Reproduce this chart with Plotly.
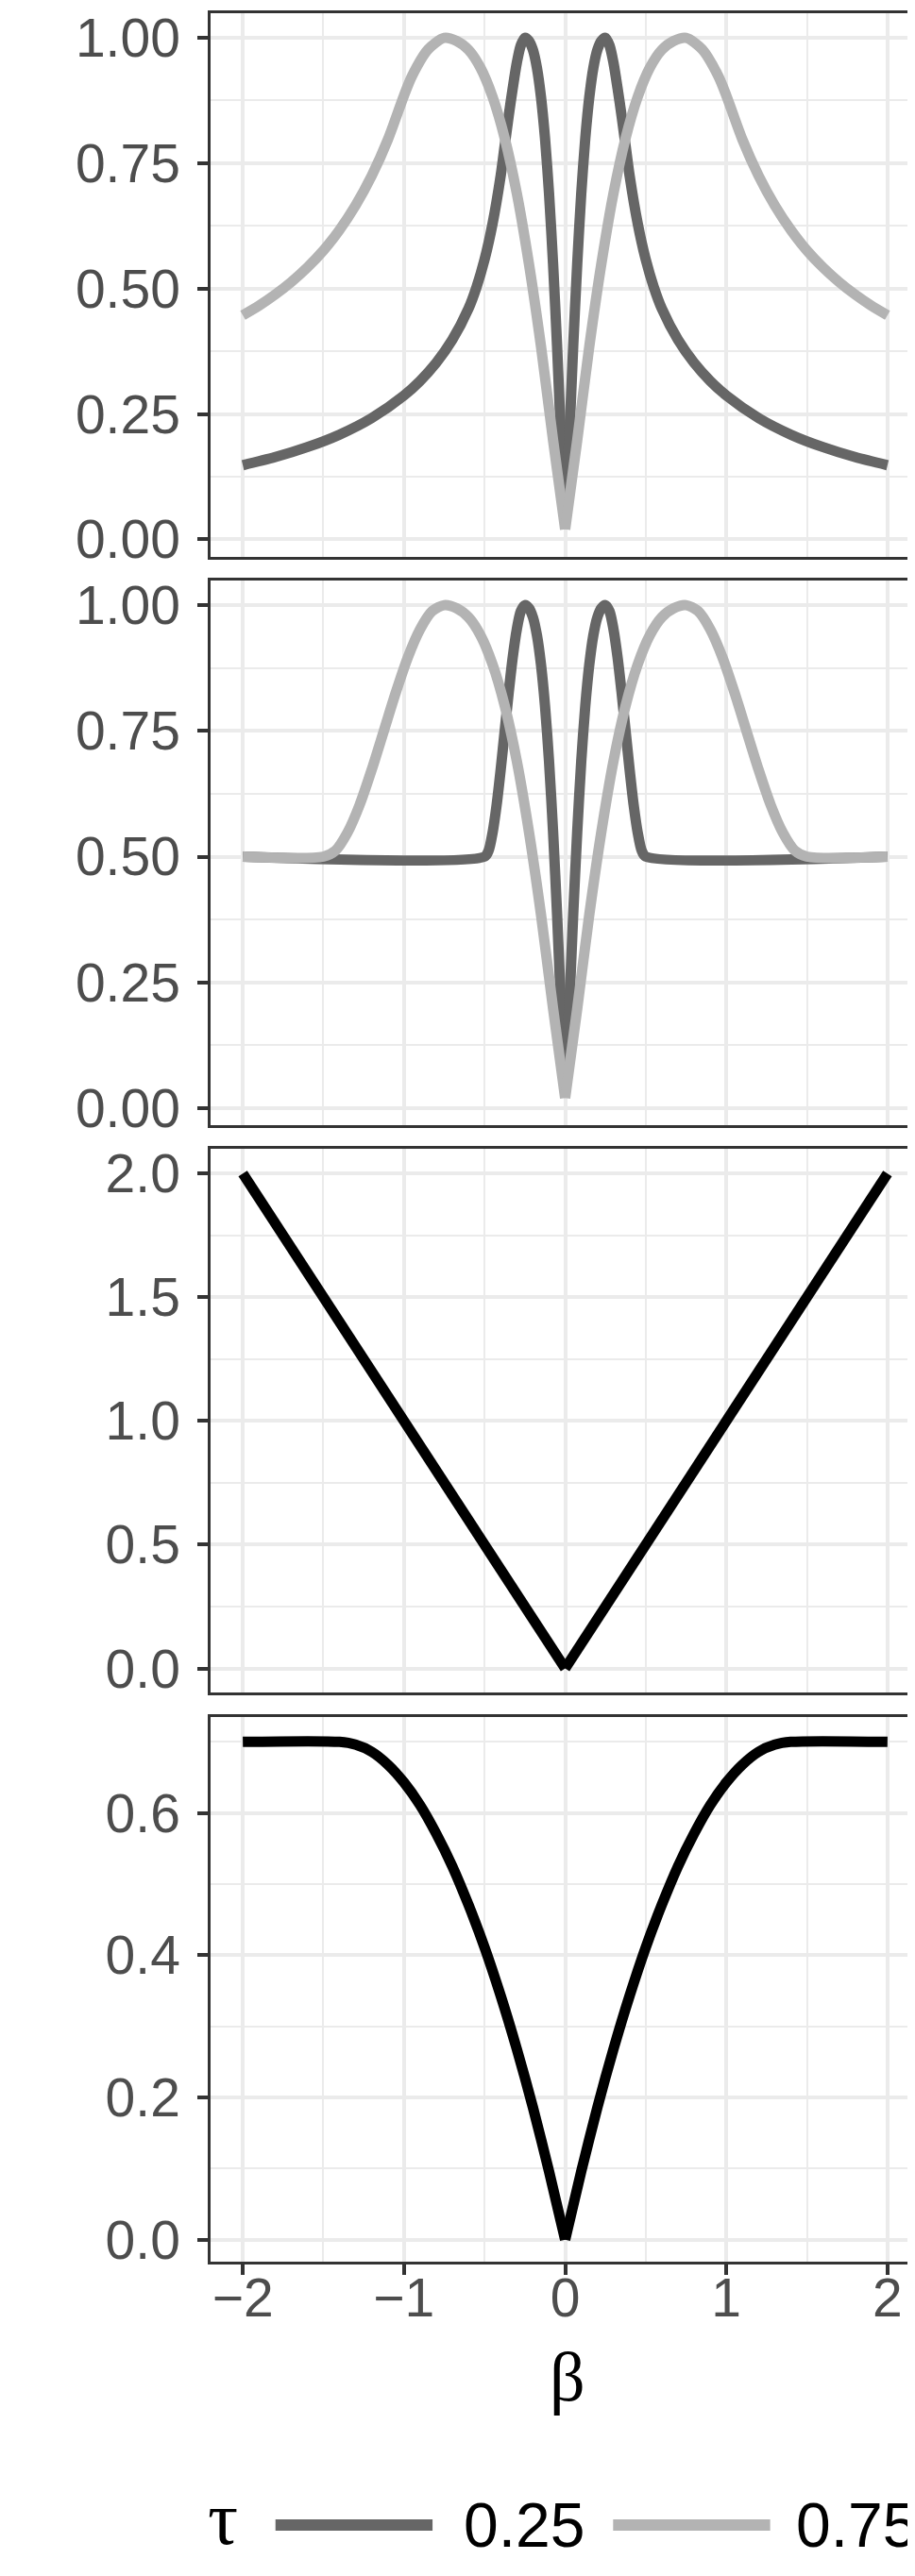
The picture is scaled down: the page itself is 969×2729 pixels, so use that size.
import plotly.graph_objects as go
from plotly.subplots import make_subplots

# ---- data ----
tau_labels = ["0.25", "0.75"]
tau_colors = ["#666666", "#B3B3B3"]

# panel 1
p1_x_025 = [-2.0, -1.8, -1.6, -1.4, -1.2, -1.0, -0.9, -0.8, -0.7, -0.6, -0.55, -0.5, -0.45, -0.4, -0.375, -0.35,
            -0.325, -0.3, -0.275, -0.25, -0.225, -0.2, -0.175, -0.15, -0.125, -0.1, -0.075, -0.05, -0.025,
            0.0, 0.025, 0.05, 0.075, 0.1, 0.125, 0.15, 0.175, 0.2, 0.225, 0.25, 0.275, 0.3, 0.325, 0.35,
            0.375, 0.4, 0.45, 0.5, 0.55, 0.6, 0.7, 0.8, 0.9, 1.0, 1.2, 1.4, 1.6, 1.8, 2.0]
p1_y_025 = [0.148, 0.164, 0.184, 0.209, 0.242, 0.287, 0.316, 0.352, 0.398, 0.46, 0.503, 0.558, 0.63, 0.725, 0.785, 0.845,
            0.9, 0.95, 0.985, 1.0, 0.994, 0.976, 0.94, 0.882, 0.8, 0.69, 0.55, 0.385, 0.198,
            0.04, 0.198, 0.385, 0.55, 0.69, 0.8, 0.882, 0.94, 0.976, 0.994, 1.0, 0.985, 0.95, 0.9, 0.845,
            0.785, 0.725, 0.63, 0.558, 0.503, 0.46, 0.398, 0.352, 0.316, 0.287, 0.242, 0.209, 0.184, 0.164, 0.148]
p1_x_075 = [-2.0, -1.9, -1.8, -1.7, -1.6, -1.5, -1.4, -1.3, -1.2, -1.1, -1.0, -0.95, -0.85, -0.75,
            -0.675, -0.6, -0.525, -0.45, -0.375, -0.3, -0.225, -0.15, -0.075,
            0.0, 0.075, 0.15, 0.225, 0.3, 0.375, 0.45, 0.525, 0.6, 0.675,
            0.75, 0.85, 0.95, 1.0, 1.1, 1.2, 1.3, 1.4, 1.5, 1.6, 1.7, 1.8, 1.9, 2.0]
p1_y_075 = [0.447, 0.466, 0.488, 0.513, 0.542, 0.576, 0.617, 0.666, 0.725, 0.797, 0.885, 0.924, 0.977, 1.0,
            0.994, 0.976, 0.94, 0.882, 0.8, 0.69, 0.55, 0.385, 0.198,
            0.02, 0.198, 0.385, 0.55, 0.69, 0.8, 0.882, 0.94, 0.976, 0.994,
            1.0, 0.977, 0.924, 0.885, 0.797, 0.725, 0.666, 0.617, 0.576, 0.542, 0.513, 0.488, 0.466, 0.447]

# panel 2
p2_x_025 = [-2.0, -0.5, -0.475, -0.45, -0.425, -0.4, -0.375, -0.35, -0.325, -0.3, -0.275, -0.25,
            -0.225, -0.2, -0.175, -0.15, -0.125, -0.1, -0.075, -0.05, -0.025,
            0.0, 0.025, 0.05, 0.075, 0.1, 0.125, 0.15, 0.175, 0.2, 0.225,
            0.25, 0.275, 0.3, 0.325, 0.35, 0.375, 0.4, 0.425, 0.45, 0.475, 0.5, 2.0]
p2_y_025 = [0.5, 0.5, 0.512, 0.548, 0.603, 0.673, 0.75, 0.827, 0.897, 0.952, 0.988, 1.0,
            0.994, 0.976, 0.94, 0.882, 0.8, 0.69, 0.55, 0.385, 0.198,
            0.04, 0.198, 0.385, 0.55, 0.69, 0.8, 0.882, 0.94, 0.976, 0.994,
            1.0, 0.988, 0.952, 0.897, 0.827, 0.75, 0.673, 0.603, 0.548, 0.512, 0.5, 0.5]
p2_x_075 = [-2.0, -1.5, -1.425, -1.35, -1.275, -1.2, -1.125, -1.05, -0.975, -0.9, -0.825, -0.75,
            -0.675, -0.6, -0.525, -0.45, -0.375, -0.3, -0.225, -0.15, -0.075,
            0.0, 0.075, 0.15, 0.225, 0.3, 0.375, 0.45, 0.525, 0.6, 0.675,
            0.75, 0.825, 0.9, 0.975, 1.05, 1.125, 1.2, 1.275, 1.35, 1.425, 1.5, 2.0]
p2_y_075 = [0.5, 0.5, 0.512, 0.548, 0.603, 0.673, 0.75, 0.827, 0.897, 0.952, 0.988, 1.0,
            0.994, 0.976, 0.94, 0.882, 0.8, 0.69, 0.55, 0.385, 0.198,
            0.02, 0.198, 0.385, 0.55, 0.69, 0.8, 0.882, 0.94, 0.976, 0.994,
            1.0, 0.988, 0.952, 0.897, 0.827, 0.75, 0.673, 0.603, 0.548, 0.512, 0.5, 0.5]

# panel 3
p3_x = [-2.0, 0.0, 2.0]
p3_y = [2.0, 0.0, 2.0]

# panel 4
p4_x = [-2.0, -1.4, -1.3, -1.2, -1.1, -1.0, -0.9, -0.8, -0.7, -0.6, -0.5, -0.4, -0.3, -0.2, -0.1,
        0.0, 0.1, 0.2, 0.3, 0.4, 0.5, 0.6, 0.7, 0.8, 0.9, 1.0, 1.1, 1.2, 1.3, 1.4, 2.0]
p4_y = [0.7, 0.7, 0.696, 0.686, 0.668, 0.643, 0.611, 0.571, 0.525, 0.471, 0.411, 0.343, 0.268, 0.186, 0.096,
        0.0, 0.096, 0.186, 0.268, 0.343, 0.411, 0.471, 0.525, 0.571, 0.611, 0.643, 0.668, 0.686, 0.696, 0.7, 0.7]

x_ticks = [-2, -1, 0, 1, 2]
x_minor = [-1.5, -0.5, 0.5, 1.5]
y_ticks = [[0, 0.25, 0.5, 0.75, 1.0], [0, 0.25, 0.5, 0.75, 1.0], [0, 0.5, 1.0, 1.5, 2.0], [0, 0.2, 0.4, 0.6]]
y_minor = [[0.125, 0.375, 0.625, 0.875], [0.125, 0.375, 0.625, 0.875], [0.25, 0.75, 1.25, 1.75],
           [0.1, 0.3, 0.5, 0.7]]
y_fmt = [".2f", ".2f", ".1f", ".1f"]
y_ranges = [[-0.034, 1.049], [-0.034, 1.049], [-0.097, 2.1], [-0.031, 0.735]]

W, H = 969, 2729
ML, MR, MT, MB = 215, 0, 2, 341
PW, PH = W - ML - MR, H - MT - MB

# panel frames in pixels from top
panel_px = [(2, 578.5), (604, 1182), (1207, 1784), (1810, 2388)]


def py2paper(py):
    return (H - MB - py) / PH


def px2paper(px):
    return (px - ML) / PW


def halves(x, y):
    # split a V-shaped curve at 0 so the spline keeps the sharp bottom
    left = [(a, b) for a, b in zip(x, y) if a <= 0]
    right = [(a, b) for a, b in zip(x, y) if a >= 0]
    return [list(zip(*left)), list(zip(*right))]


fig = make_subplots(rows=4, cols=1, shared_xaxes=True, vertical_spacing=0.01)

lw = 11
curves = [
    (1, p1_x_025, p1_y_025, tau_colors[0]), (1, p1_x_075, p1_y_075, tau_colors[1]),
    (2, p2_x_025, p2_y_025, tau_colors[0]), (2, p2_x_075, p2_y_075, tau_colors[1]),
    (3, p3_x, p3_y, "black"), (4, p4_x, p4_y, "black"),
]
for row, x, y, c in curves:
    for hx, hy in halves(x, y):
        fig.add_trace(go.Scatter(x=hx, y=hy, mode="lines",
                                 line=dict(color=c, width=lw, shape="spline", smoothing=0.8)),
                      row=row, col=1)

grid = "#EBEBEB"
frame = "#333333"
tickfont = dict(family="Liberation Sans, Arial, sans-serif", size=57, color="#4D4D4D")

for i in range(4):
    top, bot = panel_px[i]
    fig.update_yaxes(
        domain=[py2paper(bot), py2paper(top)],
        range=y_ranges[i],
        tickvals=y_ticks[i],
        tickformat=y_fmt[i],
        showgrid=True, gridcolor=grid, gridwidth=3.6,
        minor=dict(tickvals=y_minor[i], showgrid=True, gridcolor=grid, gridwidth=2, ticks=""),
        zeroline=False,
        showline=True, linecolor=frame, linewidth=2.5, mirror=True,
        ticks="outside", ticklen=11, tickwidth=3.5, tickcolor=frame,
        tickfont=tickfont, ticklabelstandoff=7, ticklabeloverflow="allow",
        row=i + 1, col=1,
    )
    last = i == 3
    fig.update_xaxes(
        range=[-2.2, 2.2],
        tickvals=x_ticks,
        showgrid=True, gridcolor=grid, gridwidth=3.6,
        minor=dict(tickvals=x_minor, showgrid=True, gridcolor=grid, gridwidth=2, ticks=""),
        zeroline=False,
        showline=True, linecolor=frame, linewidth=2.5, mirror=True,
        ticks="outside" if last else "", ticklen=11, tickwidth=3.5, tickcolor=frame,
        showticklabels=last, tickfont=tickfont, ticklabelstandoff=-24,
        row=i + 1, col=1,
    )

# x axis title
fig.add_annotation(text="β", xref="paper", yref="paper", x=px2paper(595), y=py2paper(2510),
                   xanchor="center", yanchor="middle", showarrow=False,
                   font=dict(family="Liberation Serif, Times New Roman, serif", size=74, color="black"))

# legend drawn at the bottom
leg_y = py2paper(2667.5)
fig.add_annotation(text="τ", xref="paper", yref="paper", x=px2paper(228.5), y=py2paper(2660),
                   xanchor="center", yanchor="middle", showarrow=False,
                   font=dict(family="Liberation Serif, Times New Roman, serif", size=80, color="black"))
for (x0, x1, tx), lab, c in zip([(284, 451, 482), (643, 810, 835)], tau_labels, tau_colors):
    fig.add_shape(type="line", xref="paper", yref="paper", x0=px2paper(x0), x1=px2paper(x1),
                  y0=leg_y, y1=leg_y, line=dict(color=c, width=12))
    fig.add_annotation(text=lab, xref="paper", yref="paper", x=px2paper(tx), y=leg_y,
                       xanchor="left", yanchor="middle", showarrow=False,
                       font=dict(family="Liberation Sans, Arial, sans-serif", size=66, color="black"))

fig.update_layout(
    width=W, height=H,
    margin=dict(l=ML, r=MR, t=MT, b=MB),
    plot_bgcolor="white", paper_bgcolor="white",
    showlegend=False,
)

fig.write_html("out.html")
